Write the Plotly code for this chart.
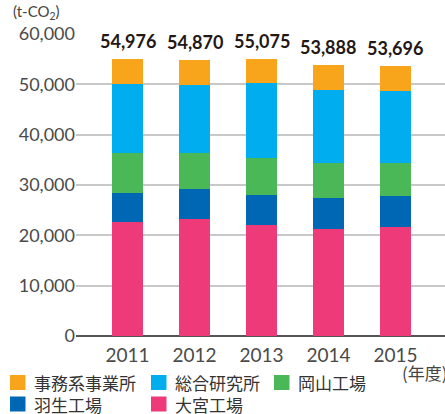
import plotly.graph_objects as go

years = ["2011", "2012", "2013", "2014", "2015"]
totals = [54976, 54870, 55075, 53888, 53696]
total_labels = ["54,976", "54,870", "55,075", "53,888", "53,696"]

# stacked bottom -> top
omiya = [22710, 23310, 21980, 21310, 21710]      # 大宮工場
hanyu = [5780, 5970, 6110, 6040, 6180]           # 羽生工場
okayama = [7830, 7040, 7240, 6980, 6570]         # 岡山工場
research = [13750, 13550, 14940, 14470, 14210]   # 総合研究所
office = [4906, 5000, 4805, 5088, 5026]          # 事務系事業所

series_names = ["大宮工場", "羽生工場", "岡山工場", "総合研究所", "事務系事業所"]
series_values = [omiya, hanyu, okayama, research, office]
series_colors = ["#EE3A78", "#0067B4", "#4BB857", "#00AEEF", "#F8A51C"]

W, H = 445, 414
ML, MR, MT, MB = 76, 0, 34, 78
PW, PH = W - ML - MR, H - MT - MB

def px(x):
    return (x - ML) / PW

def py(y):
    return (H - MB - y) / PH

FONT = "Lato, 'Noto Sans CJK JP', sans-serif"
JFONT = "'Noto Sans CJK JP', sans-serif"

fig = go.Figure()
for name, vals, col in zip(series_names, series_values, series_colors):
    fig.add_trace(go.Bar(
        x=list(range(len(years))), y=vals, name=name,
        marker=dict(color=col, line=dict(width=0)),
        width=0.46, showlegend=False, hoverinfo="y+name",
    ))

# total labels
for i, (t, lab) in enumerate(zip(totals, total_labels)):
    fig.add_annotation(x=i, y=t, text="<b>" + lab + "</b>", showarrow=False,
                       xref="x", yref="y", yanchor="bottom", yshift=5,
                       font=dict(family=FONT, size=18, color="#231815"))

# unit label
fig.add_annotation(x=px(11), y=py(12), xref="paper", yref="paper",
                   text="(t-CO<sub>2</sub>)", showarrow=False,
                   xanchor="left", yanchor="middle",
                   font=dict(family=FONT, size=15, color="#444444"))
# x unit label
fig.add_annotation(x=px(400), y=py(372), xref="paper", yref="paper",
                   text="(年度)", showarrow=False,
                   xanchor="left", yanchor="middle",
                   font=dict(family=JFONT, size=17, color="#444444"))

# manual legend
legend_order = [4, 3, 2, 1, 0]
legend_pos = [(10, 382.5), (151, 382.5), (274, 382.5), (10, 404), (151, 404)]
for idx, (lx, ly) in zip(legend_order, legend_pos):
    fig.add_shape(type="rect", xref="paper", yref="paper",
                  x0=px(lx), x1=px(lx + 15.5), y0=py(ly - 7.5), y1=py(ly + 7.5),
                  fillcolor=series_colors[idx], line=dict(width=0))
    fig.add_annotation(x=px(lx + 22), y=py(ly), xref="paper", yref="paper",
                       text=series_names[idx], showarrow=False,
                       xanchor="left", yanchor="middle",
                       font=dict(family=JFONT, size=17, color="#333333"))

fig.update_layout(
    width=W, height=H,
    margin=dict(l=ML, r=MR, t=MT, b=MB, pad=0),
    plot_bgcolor="white", paper_bgcolor="white",
    barmode="stack",
    showlegend=False,
    xaxis=dict(range=[-0.77, 4.74], tickmode="array",
               tickvals=list(range(len(years))), ticktext=years,
               showgrid=False, zeroline=False, showline=False, ticks="",
               ticklabelstandoff=6,
               tickfont=dict(family=FONT, size=19, color="#4a4a4a"),
               fixedrange=True),
    yaxis=dict(range=[0, 60000], tickvals=[0, 10000, 20000, 30000, 40000, 50000, 60000],
               ticktext=["0", "10,000", "20,000", "30,000", "40,000", "50,000", "60,000"],
               showgrid=True, gridcolor="#C8C8C8", gridwidth=1.5,
               zeroline=True, zerolinecolor="#555555", zerolinewidth=2,
               showline=False, ticks="",
               tickfont=dict(family=FONT, size=18, color="#4a4a4a"),
               fixedrange=True),
)

fig.write_html("out.html", config={"displayModeBar": False},
               post_script="document.body.style.margin='0';document.body.style.overflow='hidden';")
